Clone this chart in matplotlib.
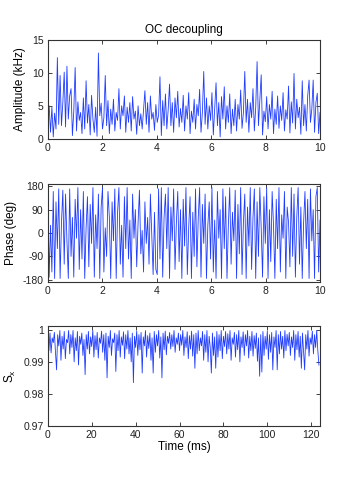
import matplotlib.pyplot as plt
import numpy as np

plt.rcParams["font.family"] = ["Liberation Sans", "DejaVu Sans"]
plt.rcParams["axes.unicode_minus"] = False
plt.rcParams["mathtext.fontset"] = "custom"
plt.rcParams["mathtext.rm"] = "Liberation Sans"
plt.rcParams["mathtext.it"] = "Liberation Sans"

BLUE = "#1f3cff"; EDGE = "#333333"

# amplitude (kHz), 0..10 ms
amp = [2.5, 5.0, 1.0, 4.8, 0.3, 3.9, 1.5, 12.3, 2.2, 9.6,
       2.0, 5.5, 10.1, 1.8, 11.0, 3.0, 6.5, 7.6, 0.5, 4.2,
       10.8, 1.2, 5.6, 2.8, 4.0, 0.8, 6.2, 1.5, 8.8, 2.4,
       5.2, 0.6, 6.6, 3.0, 1.0, 4.8, 0.4, 13.0, 3.5, 5.4,
       1.5, 3.2, 9.6, 2.0, 5.8, 0.8, 4.5, 2.2, 6.0, 1.2,
       4.0, 2.8, 7.6, 1.5, 5.0, 3.5, 6.5, 1.0, 4.8, 2.5,
       5.5, 1.2, 6.4, 3.0, 4.2, 0.7, 5.0, 2.0, 3.8, 1.5,
       4.5, 7.3, 2.2, 5.5, 1.0, 6.5, 3.0, 4.0, 1.3, 5.2,
       2.5, 3.6, 9.4, 0.5, 5.8, 2.0, 6.8, 1.5, 4.4, 8.3,
       2.0, 5.5, 1.0, 6.2, 3.2, 7.2, 1.8, 4.6, 2.5, 6.6,
       1.2, 5.0, 3.0, 7.0, 0.8, 4.2, 2.5, 6.0, 1.5, 5.2,
       3.5, 7.5, 1.0, 4.0, 10.2, 2.2, 6.2, 1.5, 5.0, 2.8,
       7.0, 0.6, 4.6, 8.5, 2.0, 5.5, 0.3, 6.4, 3.0, 7.9,
       1.5, 5.0, 2.5, 6.8, 0.8, 4.5, 2.0, 6.0, 1.2, 5.2,
       3.0, 7.4, 1.6, 4.0, 10.2, 2.5, 6.0, 1.0, 5.5, 3.2,
       7.6, 1.2, 4.8, 11.7, 2.0, 5.8, 9.7, 0.6, 4.2, 2.6,
       6.4, 1.5, 5.2, 3.0, 7.2, 0.8, 4.5, 2.2, 6.5, 1.6,
       5.0, 2.8, 7.0, 1.2, 4.4, 3.0, 8.0, 0.9, 5.6, 2.4,
       9.9, 1.5, 6.0, 3.2, 4.8, 0.7, 8.8, 2.0, 5.2, 1.2,
       6.5, 8.9, 2.5, 4.5, 8.9, 1.0, 5.5, 6.9, 0.8, 4.0]

# phase (deg), 0..10 ms
phase = [180, -170, 30, -150, 160, -175, 120, -60, 170, -175,
         40, 165, -120, 150, -30, -175, 170, -90, 60, -170,
         130, -20, 175, -140, 90, -100, 160, -175, 20, 140,
         -130, 110, -40, 175, -170, 70, -60, 150, -175, 100,
         175, -150, 20, -90, 160, 60, -175, 120, -30, 170,
         -175, 80, 175, -120, 30, -170, 140, -60, 175, -100,
         50, -175, 150, -20, 90, -130, 40, 165, -80, 10,
         -150, 120, -40, 60, -120, 150, -10, -160, 80, -140,
         -160, 170, -100, 175, -170, 60, 150, -60, 175, -175,
         100, -30, 170, -140, 40, 160, -110, 90, -175, 130,
         -50, 175, -160, 20, 140, -175, 80, -90, 170, -130,
         60, 175, -170, 110, -40, 150, -175, 30, 120, -100,
         175, -150, 50, -175, 160, -20, 90, -175, 170, -60,
         140, -175, 30, 175, -120, 80, -30, 165, -175, 110,
         -80, 175, -160, 40, 150, -175, 100, -50, 175, -140,
         60, 170, -175, 120, -90, 175, 20, -170, 140, -40,
         175, -175, 90, -110, 160, 30, -175, 130, -60, 175,
         -150, 70, -20, 160, -175, 100, 40, -130, 175, -90,
         150, -170, 60, 175, -120, 100, -175, 40, 160, -60,
         130, -175, 170, -30, 90, -175, 140, 175, -150, 50]

# S_x, sampled every 0.5 ms
sx = [0.9995, 0.9935, 0.9990, 0.9928, 0.9975, 0.9960, 0.9992, 0.9930, 0.9875, 0.9985,
      0.9950, 0.9998, 0.9905, 0.9980, 0.9940, 0.9995, 0.9910, 0.9970, 0.9960, 0.9998,
      0.9925, 0.9985, 0.9945, 0.9998, 0.9900, 0.9975, 0.9935, 0.9995, 0.9890, 0.9980,
      0.9955, 0.9990, 0.9920, 0.9970, 0.9860, 0.9985, 0.9940, 0.9995, 0.9925, 0.9978,
      0.9948, 0.9998, 0.9915, 0.9982, 0.9938, 0.9992, 0.9912, 0.9975, 0.9958, 0.9996,
      0.9930, 0.9985, 0.9905, 0.9990, 0.9850, 0.9980, 0.9945, 0.9998, 0.9920, 0.9972,
      0.9960, 0.9990, 0.9870, 0.9985, 0.9935, 0.9998, 0.9915, 0.9978, 0.9952, 0.9994,
      0.9910, 0.9985, 0.9940, 0.9998, 0.9925, 0.9975, 0.9900, 0.9990, 0.9835, 0.9980,
      0.9945, 0.9996, 0.9920, 0.9985, 0.9938, 0.9992, 0.9865, 0.9978, 0.9950, 0.9998,
      0.9915, 0.9982, 0.9942, 0.9990, 0.9905, 0.9975, 0.9865, 0.9995, 0.9930, 0.9985,
      0.9950, 0.9998, 0.9912, 0.9978, 0.9850, 0.9990, 0.9938, 0.9996, 0.9922, 0.9980,
      0.9958, 0.9992, 0.9940, 0.9985, 0.9948, 0.9998, 0.9930, 0.9975, 0.9955, 0.9990,
      0.9935, 0.9985, 0.9952, 0.9998, 0.9920, 0.9978, 0.9945, 0.9994, 0.9910, 0.9982,
      0.9940, 0.9996, 0.9918, 0.9985, 0.9880, 0.9990, 0.9925, 0.9998, 0.9935, 0.9975,
      0.9950, 0.9995, 0.9905, 0.9985, 0.9930, 0.9998, 0.9900, 0.9980, 0.9945, 0.9865,
      0.9990, 0.9920, 0.9978, 0.9880, 0.9995, 0.9915, 0.9985, 0.9935, 0.9998, 0.9910,
      0.9980, 0.9948, 0.9995, 0.9925, 0.9988, 0.9940, 0.9998, 0.9905, 0.9975, 0.9955,
      0.9992, 0.9915, 0.9985, 0.9938, 0.9998, 0.9900, 0.9978, 0.9945, 0.9994, 0.9920,
      0.9985, 0.9950, 0.9998, 0.9912, 0.9980, 0.9935, 0.9995, 0.9918, 0.9982, 0.9942,
      0.9990, 0.9902, 0.9975, 0.9855, 0.9985, 0.9868, 0.9995, 0.9920, 0.9980, 0.9940,
      0.9996, 0.9908, 0.9985, 0.9930, 0.9992, 0.9875, 0.9978, 0.9945, 0.9998, 0.9875,
      0.9985, 0.9925, 0.9995, 0.9940, 0.9980, 0.9912, 0.9998, 0.9935, 0.9986, 0.9950,
      0.9992, 0.9920, 0.9978, 0.9945, 0.9998, 0.9905, 0.9985, 0.9938, 0.9995, 0.9915,
      0.9980, 0.9880, 0.9990, 0.9930, 0.9875, 0.9985, 0.9940, 0.9998, 0.9918, 0.9975,
      0.9955, 0.9996, 0.9925, 0.9985, 0.9945, 0.9998, 0.9935, 0.9890]

t_pulse = np.linspace(0, 10, len(amp))
t_ph = np.linspace(0, 10, len(phase))
t_sx = np.arange(len(sx)) * 0.5

fig = plt.figure(figsize=(3.54, 4.79), dpi=100)
fig.patch.set_facecolor("white")

def style(ax):
    ax.tick_params(direction="in", top=True, right=True, length=3, width=0.6,
                   labelsize=7.5, colors="#222222", pad=3)
    for s in ax.spines.values():
        s.set_color(EDGE); s.set_linewidth(0.8)

ax1 = fig.add_axes([0.135, 0.710, 0.769, 0.207])
ax1.plot(t_pulse, amp, color=BLUE, lw=0.6)
ax1.set_xlim(0, 10); ax1.set_ylim(0, 15)
ax1.set_xticks([0, 2, 4, 6, 8, 10]); ax1.set_yticks([0, 5, 10, 15])
ax1.set_ylabel("Amplitude (kHz)", fontsize=8.5)
ax1.set_title("OC decoupling", fontsize=8.5, pad=5)
style(ax1)

ax2 = fig.add_axes([0.135, 0.411, 0.769, 0.205])
ax2.plot(t_ph, phase, color=BLUE, lw=0.6)
ax2.set_xlim(0, 10); ax2.set_ylim(-189, 189)
ax2.set_xticks([0, 2, 4, 6, 8, 10]); ax2.set_yticks([-180, -90, 0, 90, 180])
ax2.set_ylabel("Phase (deg)", fontsize=8.5)
style(ax2)

ax3 = fig.add_axes([0.135, 0.111, 0.769, 0.209])
ax3.plot(t_sx, sx, color=BLUE, lw=0.6)
ax3.set_xlim(0, 124); ax3.set_ylim(0.97, 1.0013)
ax3.set_xticks([0, 20, 40, 60, 80, 100, 120])
ax3.set_yticks([0.97, 0.98, 0.99, 1.0])
ax3.set_yticklabels(["0.97", "0.98", "0.99", "1"])
ax3.set_ylabel(r"S$_\mathregular{x}$", fontsize=8.5)
ax3.set_xlabel("Time (ms)", fontsize=8.5, labelpad=1)
style(ax3)

fig.savefig("out.png", dpi=100, facecolor="white")
